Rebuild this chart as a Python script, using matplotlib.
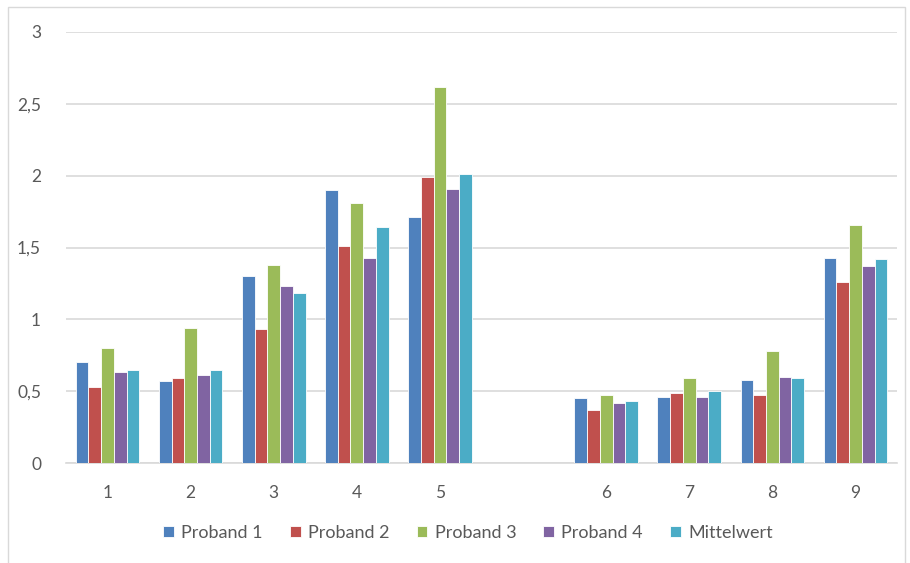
import numpy as np
import matplotlib.pyplot as plt
from matplotlib.patches import Rectangle

plt.rcParams['font.family'] = ['Lato', 'DejaVu Sans']

# category slots (the empty one separates the two blocks)
categories = ['1', '2', '3', '4', '5', '', '6', '7', '8', '9']
series = ['Proband 1', 'Proband 2', 'Proband 3', 'Proband 4', 'Mittelwert']
nan = np.nan
proband1 = [0.70, 0.57, 1.30, 1.90, 1.71, nan, 0.45, 0.46, 0.58, 1.43]
proband2 = [0.53, 0.59, 0.93, 1.51, 1.99, nan, 0.37, 0.49, 0.47, 1.26]
proband3 = [0.80, 0.94, 1.38, 1.81, 2.62, nan, 0.47, 0.59, 0.78, 1.66]
proband4 = [0.63, 0.61, 1.23, 1.43, 1.91, nan, 0.42, 0.46, 0.60, 1.37]
mittelwert = [0.65, 0.65, 1.18, 1.64, 2.01, nan, 0.43, 0.50, 0.59, 1.42]
colors = ['#4F81BD', '#C0504D', '#9BBB59', '#8064A2', '#4BACC6']

fig = plt.figure(figsize=(9.10, 5.63), dpi=100)
ax = fig.add_axes([66 / 910, 1 - 463 / 563, 831 / 910, 431 / 563])

x = np.arange(len(categories))
step = 0.153
width = 0.153
for i, (name, vals, c) in enumerate(zip(series, [proband1, proband2, proband3, proband4, mittelwert], colors)):
    ax.bar(x + (i - 2) * step, vals, width, color=c, edgecolor='white', linewidth=0.6,
           label=name, zorder=3)

ax.set_xlim(-0.5, len(categories) - 0.5)
ax.set_ylim(0, 3)
ax.set_yticks([0, 0.5, 1, 1.5, 2, 2.5, 3])
ax.set_yticklabels(['0', '0,5', '1', '1,5', '2', '2,5', '3'])
ax.set_xticks(x)
ax.set_xticklabels(categories)
ax.tick_params(axis='both', length=0, labelsize=12.5, labelcolor='#595959')
ax.tick_params(axis='x', pad=16)
ax.tick_params(axis='y', pad=18)
ax.grid(axis='y', color='#d9d9d9', linewidth=1.2, zorder=0)
for s in ['top', 'right', 'left']:
    ax.spines[s].set_visible(False)
ax.spines['bottom'].set_color('#d9d9d9')
ax.spines['bottom'].set_linewidth(1.2)

leg = fig.legend(loc='center', bbox_to_anchor=(468 / 910, 1 - 533 / 563), ncol=5,
                 frameon=False, fontsize=13, handlelength=0.6, handleheight=0.6,
                 handletextpad=0.4, columnspacing=1.5)
for t in leg.get_texts():
    t.set_color('#595959')

# outer chart frame
fig.patches.append(Rectangle((8 / 910, -0.01), 897 / 910, 1 - 7 / 563 + 0.01,
                             transform=fig.transFigure, fill=False,
                             edgecolor='#d9d9d9', linewidth=1))

fig.savefig('out.png', dpi=100, facecolor='white')
